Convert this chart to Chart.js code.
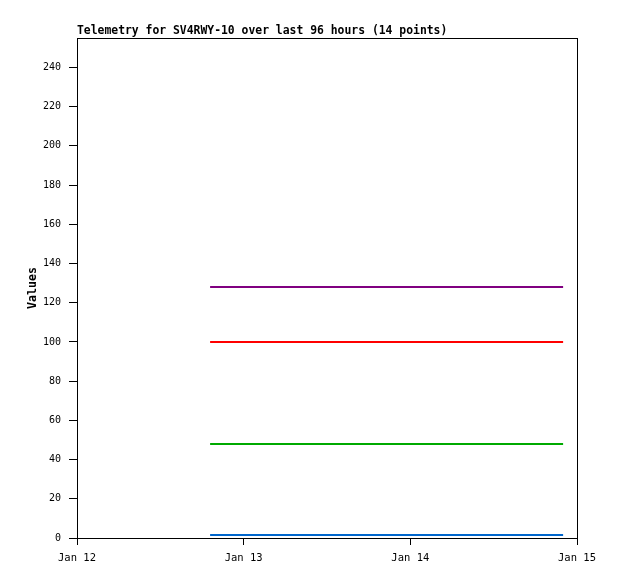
<!DOCTYPE html>
<html><head><meta charset="utf-8">
<script src="https://cdn.jsdelivr.net/npm/chart.js@4/dist/chart.umd.min.js"></script>
<style>html,body{margin:0;padding:0;background:#fff}#c{display:block}</style>
</head><body>
<canvas id="c" width="618" height="579"></canvas>
<script>
const titleText = "Telemetry for SV4RWY-10 over last 96 hours (14 points)";
const yAxisTitle = "Values";
const timestamps = [
  "2024-01-12T19:10", "2024-01-12T23:05", "2024-01-13T03:00", "2024-01-13T06:55",
  "2024-01-13T10:50", "2024-01-13T14:45", "2024-01-13T18:40", "2024-01-13T22:35",
  "2024-01-14T02:30", "2024-01-14T06:25", "2024-01-14T10:20", "2024-01-14T14:15",
  "2024-01-14T18:10", "2024-01-14T22:00"
];
const seriesNames = ["Value 1", "Value 2", "Value 3", "Value 4"];
const purpleValues = [128,128,128,128,128,128,128,128,128,128,128,128,128,128];
const redValues    = [100,100,100,100,100,100,100,100,100,100,100,100,100,100];
const greenValues  = [48,48,48,48,48,48,48,48,48,48,48,48,48,48];
const blueValues   = [1.5,1.5,1.5,1.5,1.5,1.5,1.5,1.5,1.5,1.5,1.5,1.5,1.5,1.5];
const xStart = "2024-01-12T00:00";
const xEnd = "2024-01-15T00:00";
const monthNames = ["Jan","Feb","Mar","Apr","May","Jun","Jul","Aug","Sep","Oct","Nov","Dec"];
const yMax = 255;
const yTickStep = 20;

const t = s => new Date(s + ":00Z").getTime();
const mk = vals => vals.map((v, i) => ({x: t(timestamps[i]), y: v}));
const DAY = 86400000;
const monoFont = "'DejaVu Sans Mono', 'Liberation Mono', monospace";

const framePlugin = {
  id: 'frame',
  afterDraw(chart) {
    const {ctx, chartArea: a} = chart;
    ctx.save();
    ctx.strokeStyle = '#000';
    ctx.lineWidth = 1;
    ctx.strokeRect(Math.round(a.left) + 0.5, Math.round(a.top) + 0.5,
                   Math.round(a.right - a.left), Math.round(a.bottom - a.top));
    ctx.fillStyle = '#000';
    ctx.font = "bold 11.4px " + monoFont;
    ctx.textAlign = 'left';
    ctx.textBaseline = 'alphabetic';
    ctx.fillText(titleText, a.left, a.top - 4);
    ctx.translate(36, (a.top + a.bottom) / 2);
    ctx.rotate(-Math.PI / 2);
    ctx.textAlign = 'center';
    ctx.textBaseline = 'alphabetic';
    ctx.font = "bold 11.6px " + monoFont;
    ctx.fillText(yAxisTitle, 0, 0);
    ctx.restore();
  }
};

new Chart(document.getElementById('c'), {
  type: 'line',
  data: {
    datasets: [
      {label: seriesNames[0], data: mk(purpleValues), borderColor: '#800080'},
      {label: seriesNames[1], data: mk(redValues), borderColor: '#ff0000'},
      {label: seriesNames[2], data: mk(greenValues), borderColor: '#00aa00'},
      {label: seriesNames[3], data: mk(blueValues), borderColor: '#0066cc'}
    ].map(d => Object.assign(d, {borderWidth: 2, pointRadius: 0, tension: 0, fill: false}))
  },
  options: {
    responsive: false,
    animation: false,
    events: [],
    layout: {padding: {left: 0, right: 41, top: 38, bottom: 0}},
    plugins: {legend: {display: false}, tooltip: {enabled: false}, title: {display: false}},
    scales: {
      x: {
        type: 'linear',
        min: t(xStart), max: t(xEnd),
        afterFit(s) { s.height = 41; },
        border: {display: true, color: '#000', width: 1},
        grid: {drawOnChartArea: false, drawTicks: true, tickLength: 7, color: '#000'},
        ticks: {
          stepSize: DAY, color: '#000', padding: 7, maxRotation: 0,
          font: {family: monoFont, size: 10.5},
          callback(v) { const d = new Date(v); return monthNames[d.getUTCMonth()] + ' ' + d.getUTCDate(); }
        }
      },
      y: {
        min: 0, max: yMax,
        afterFit(s) { s.width = 77; },
        afterBuildTicks(s) { s.ticks = s.ticks.filter(tk => tk.value % yTickStep === 0); },
        border: {display: true, color: '#000', width: 1},
        grid: {drawOnChartArea: false, drawTicks: true, tickLength: 8, color: '#000'},
        ticks: {
          stepSize: yTickStep, color: '#000', padding: 8,
          font: {family: monoFont, size: 10}
        }
      }
    }
  },
  plugins: [framePlugin]
});
</script>
</body></html>
